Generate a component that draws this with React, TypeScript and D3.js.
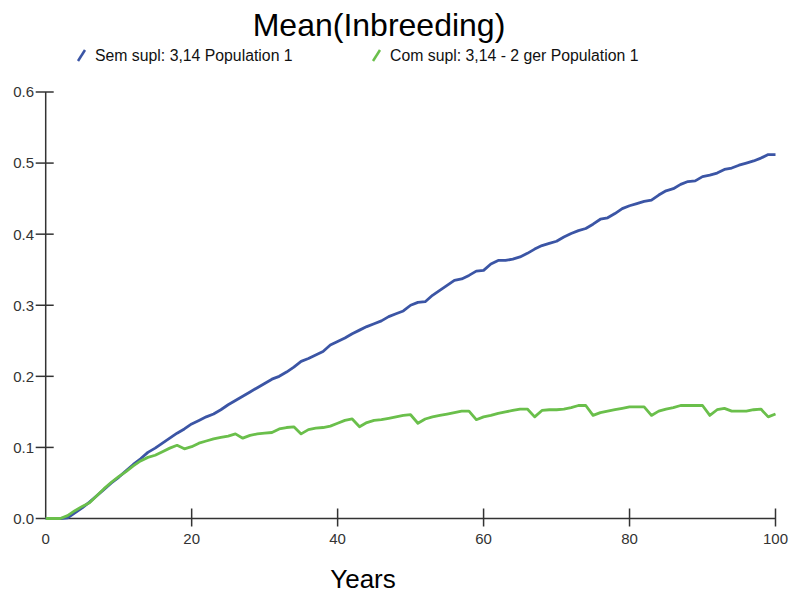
import React, { useEffect, useRef } from "react";
import * as d3 from "d3";

// yearly values
const years = d3.range(0, 101);
const semSupl = [
  0, 0, 0, 0.001, 0.008, 0.015, 0.023, 0.032, 0.041, 0.05,
  0.058, 0.067, 0.076, 0.084, 0.093, 0.099, 0.106, 0.113, 0.12, 0.126,
  0.133, 0.138, 0.143, 0.147, 0.153, 0.16, 0.166, 0.172, 0.178, 0.184,
  0.19, 0.196, 0.2, 0.206, 0.213, 0.221, 0.225, 0.23, 0.235, 0.244,
  0.249, 0.254, 0.26, 0.265, 0.27, 0.274, 0.278, 0.284, 0.288, 0.292,
  0.3, 0.304, 0.305, 0.314, 0.321, 0.328, 0.335, 0.337, 0.342, 0.348,
  0.349, 0.358, 0.363, 0.363, 0.365, 0.368, 0.373, 0.379, 0.384, 0.387,
  0.39, 0.396, 0.401, 0.405, 0.408, 0.414, 0.421, 0.423, 0.429, 0.436,
  0.44, 0.443, 0.446, 0.448, 0.455, 0.461, 0.464, 0.47, 0.474, 0.475,
  0.481, 0.483, 0.486, 0.491, 0.493, 0.497, 0.5, 0.503, 0.507, 0.512,
  0.512,
];
const comSupl = [
  0, 0, 0, 0.004, 0.011, 0.017, 0.022, 0.032, 0.042, 0.051,
  0.059, 0.066, 0.074, 0.081, 0.086, 0.089, 0.094, 0.099, 0.103, 0.098,
  0.101, 0.106, 0.109, 0.112, 0.114, 0.116, 0.119, 0.113, 0.117, 0.119,
  0.12, 0.121, 0.126, 0.128, 0.129, 0.119, 0.125, 0.127, 0.128, 0.13,
  0.134, 0.138, 0.14, 0.129, 0.135, 0.138, 0.139, 0.141, 0.143, 0.145,
  0.146, 0.134, 0.14, 0.143, 0.145, 0.147, 0.149, 0.151, 0.151, 0.139,
  0.143, 0.145, 0.148, 0.15, 0.152, 0.154, 0.154, 0.143, 0.152, 0.153,
  0.153, 0.154, 0.156, 0.159, 0.159, 0.145, 0.149, 0.151, 0.153, 0.155,
  0.157, 0.157, 0.157, 0.145, 0.151, 0.154, 0.156, 0.159, 0.159, 0.159,
  0.159, 0.145, 0.153, 0.155, 0.151, 0.151, 0.151, 0.153, 0.154, 0.143,
  0.147,
];
const seriesNames = ["Sem supl: 3,14 Population 1", "Com supl: 3,14 - 2 ger Population 1"];
const colors = ["#3b55a5", "#6abf4b"];
const xTicks = [0, 20, 40, 60, 80, 100];
const yTicks = [0, 0.1, 0.2, 0.3, 0.4, 0.5, 0.6];

function App() {
  const svgRef = useRef<SVGSVGElement>(null);
  useEffect(() => {
    const width = 789;
    const height = 593;
    const font = "'Liberation Sans', Arial, sans-serif";
    const svg = d3.select(svgRef.current);
    svg.selectAll("*").remove();
    svg.attr("width", width).attr("height", height);

    const x = d3.scaleLinear().domain([0, 100]).range([45.7, 775.5]);
    const y = d3.scaleLinear().domain([0, 0.6]).range([518.5, 92]);

    // title
    svg.append("text")
      .attr("x", 379)
      .attr("y", 36)
      .attr("text-anchor", "middle")
      .style("font-family", font)
      .style("font-size", "32px")
      .attr("fill", "#000")
      .text("Mean(Inbreeding)");

    // legend
    const legendX = [77, 372];
    const legend = svg.append("g")
      .selectAll("g")
      .data(seriesNames)
      .enter().append("g")
      .attr("transform", (d, i) => `translate(${legendX[i]}, 0)`);
    legend.append("line")
      .attr("x1", 1).attr("y1", 61)
      .attr("x2", 8).attr("y2", 50)
      .attr("stroke", (d, i) => colors[i])
      .attr("stroke-width", 2.5);
    legend.append("text")
      .attr("x", 18)
      .attr("y", 61)
      .style("font-family", font)
      .style("font-size", "15.8px")
      .attr("fill", "#111")
      .text(d => d);

    // axes
    const axisColor = "#333";
    const axes = svg.append("g");
    axes.append("line")
      .attr("x1", x(0)).attr("x2", x(0))
      .attr("y1", y(0.6)).attr("y2", y(0))
      .attr("stroke", axisColor).attr("stroke-width", 1.5);
    axes.append("line")
      .attr("x1", x(0)).attr("x2", x(100))
      .attr("y1", y(0)).attr("y2", y(0))
      .attr("stroke", axisColor).attr("stroke-width", 1.5);

    axes.selectAll(".ytick")
      .data(yTicks)
      .enter().append("line")
      .attr("class", "ytick")
      .attr("x1", x(0) - 10).attr("x2", x(0) + 8)
      .attr("y1", d => y(d)).attr("y2", d => y(d))
      .attr("stroke", axisColor).attr("stroke-width", 1.5);
    axes.selectAll(".ylabel")
      .data(yTicks)
      .enter().append("text")
      .attr("class", "ylabel")
      .attr("x", 34)
      .attr("y", d => y(d))
      .attr("dy", "0.36em")
      .attr("text-anchor", "end")
      .style("font-family", font)
      .style("font-size", "15px")
      .attr("fill", "#333")
      .text(d => d3.format(".1f")(d));

    axes.selectAll(".xtick")
      .data(xTicks.filter(d => d > 0))
      .enter().append("line")
      .attr("class", "xtick")
      .attr("x1", d => x(d)).attr("x2", d => x(d))
      .attr("y1", y(0) - 10).attr("y2", y(0) + 8)
      .attr("stroke", axisColor).attr("stroke-width", 1.5);
    axes.selectAll(".xlabel")
      .data(xTicks)
      .enter().append("text")
      .attr("class", "xlabel")
      .attr("x", d => x(d))
      .attr("y", 544)
      .attr("text-anchor", "middle")
      .style("font-family", font)
      .style("font-size", "15px")
      .attr("fill", "#333")
      .text(d => d);

    svg.append("text")
      .attr("x", 363)
      .attr("y", 588)
      .attr("text-anchor", "middle")
      .style("font-family", font)
      .style("font-size", "26px")
      .attr("fill", "#000")
      .text("Years");

    // lines
    const line = d3.line<number>()
      .x((d, i) => x(years[i]))
      .y(d => y(d));
    svg.append("g")
      .selectAll("path")
      .data([semSupl, comSupl])
      .enter().append("path")
      .attr("d", d => line(d))
      .attr("fill", "none")
      .attr("stroke", (d, i) => colors[i])
      .attr("stroke-width", 2.8)
      .attr("stroke-linejoin", "round");
  }, []);
  return (
    <div style={{ position: "absolute", left: 0, top: 0 }}>
      <svg ref={svgRef}></svg>
    </div>
  );
}

export default App;
